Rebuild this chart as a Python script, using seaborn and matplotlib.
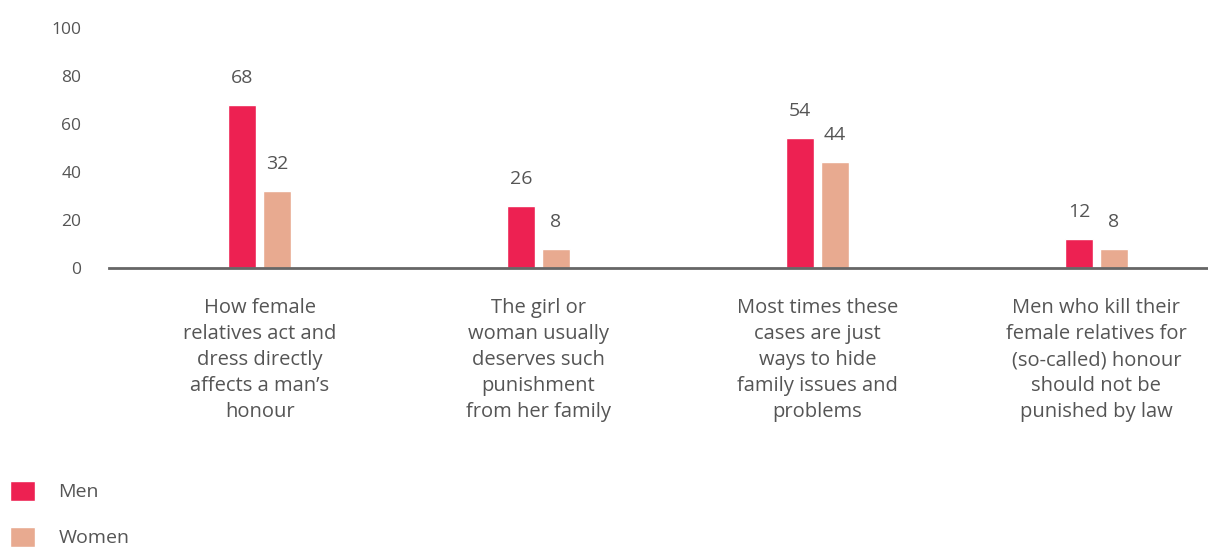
import matplotlib
matplotlib.use('Agg')
import matplotlib.pyplot as plt
import seaborn as sns
import pandas as pd

categories = [
    "How female\nrelatives act and\ndress directly\naffects a man\u2019s\nhonour",
    "The girl or\nwoman usually\ndeserves such\npunishment\nfrom her family",
    "Most times these\ncases are just\nways to hide\nfamily issues and\nproblems",
    "Men who kill their\nfemale relatives for\n(so-called) honour\nshould not be\npunished by law",
]
men = [68, 26, 54, 12]
women = [32, 8, 44, 8]
series = ["Men", "Women"]
yticks = [0, 20, 40, 60, 80, 100]

men_color = "#ED2152"
women_color = "#E8AA90"
text_color = "#555555"

df = pd.DataFrame({
    "statement": categories * 2,
    "value": men + women,
    "group": [series[0]] * len(men) + [series[1]] * len(women),
})

sns.set_theme(style="white")
plt.rcParams["font.family"] = ["Open Sans", "DejaVu Sans"]

W, H = 1208, 547
fig = plt.figure(figsize=(W / 100, H / 100), dpi=100)
ax = fig.add_axes([109 / W, (H - 268) / H, 1 - 109 / W, (268 - 28) / H])

sns.barplot(data=df, x="statement", y="value", hue="group", order=categories,
            hue_order=series, palette=[men_color, women_color], saturation=1,
            width=0.25, gap=0.2, errorbar=None, ax=ax)

for cont in ax.containers:
    ax.bar_label(cont, padding=13, fontsize=14, color=text_color)

ax.set_ylim(0, 100)
ax.set_xlim(-0.54, 3.40)
ax.set_yticks(yticks)
ax.set_yticklabels([str(v) for v in yticks])
ax.set_xlabel("")
ax.set_ylabel("")
for s in ["top", "right", "left"]:
    ax.spines[s].set_visible(False)
ax.spines["bottom"].set_color("#666666")
ax.spines["bottom"].set_linewidth(2)
ax.tick_params(axis="y", length=0, pad=20, labelsize=12.5, labelcolor=text_color)
ax.tick_params(axis="x", length=0, pad=21.5, labelsize=14.5, labelcolor=text_color)
for lbl in ax.get_xticklabels():
    lbl.set_linespacing(1.41)
    lbl.set_horizontalalignment("center")

leg = ax.get_legend()
handles = leg.legend_handles
labels = [t.get_text() for t in leg.get_texts()]
leg.remove()
fig.legend(handles, labels, loc="upper left",
           bbox_to_anchor=(10 / W, (H - 481) / H), bbox_transform=fig.transFigure,
           frameon=False, fontsize=14, labelcolor=text_color, borderpad=0,
           borderaxespad=0, handlelength=1.29, handleheight=1.19,
           labelspacing=1.30, handletextpad=1.19)

fig.savefig("out.png", dpi=100, facecolor="white")
